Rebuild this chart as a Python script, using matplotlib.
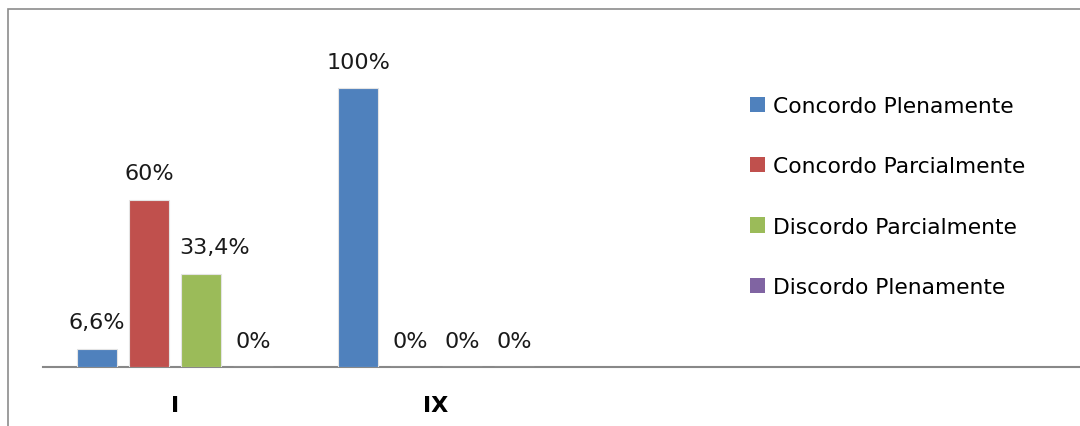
import numpy as np
import matplotlib
matplotlib.use("Agg")
import matplotlib.pyplot as plt
from matplotlib.patches import Patch, Rectangle
from matplotlib import font_manager

# Condensed DejaVu if present, plain DejaVu otherwise
names = {f.name for f in font_manager.fontManager.ttflist}
family = 'DejaVu Sans Condensed' if 'DejaVu Sans Condensed' in names else 'DejaVu Sans'
plt.rcParams['font.family'] = [family, 'DejaVu Sans']

# Survey answers per question (percent)
questions = ['I', 'IX']
series = ['Concordo Plenamente', 'Concordo Parcialmente',
          'Discordo Parcialmente', 'Discordo Plenamente']
concordo_plen = [6.6, 100]
concordo_parc = [60, 0]
discordo_parc = [33.4, 0]
discordo_plen = [0, 0]
values = [concordo_plen, concordo_parc, discordo_parc, discordo_plen]
colors = ['#4F81BD', '#C0504D', '#9BBB59', '#8064A2']

W, H = 1080, 427
fig = plt.figure(figsize=(W / 100, H / 100), dpi=100)

# outer chart frame
fig.patches.append(Rectangle((8 / W, -0.1), 1.2, 1 - 10 / H + 0.1,
                             transform=fig.transFigure, fill=False,
                             edgecolor='#8c8c8c', linewidth=1.2))

ax = fig.add_axes([43 / W, 59 / H, 1 - 43 / W, 338 / H])
ax.set_facecolor('none')

x = np.arange(len(questions))
step = 52 / 261
width = 40 / 261
for i, (name, vals, c) in enumerate(zip(series, values, colors)):
    pos = x + (i - 1.5) * step
    bars = ax.bar(pos, vals, width, color=c, label=name, zorder=3,
                  edgecolor='#e4e4e4', linewidth=0.8)
    for b, v in zip(bars, vals):
        txt = f"{v:g}".replace('.', ',') + '%'
        # nudge the wide decimal label off the neighbouring bar
        dx = 10 if ',' in txt and v > 20 else 0
        ax.annotate(txt, (b.get_x() + b.get_width() / 2, v),
                    xytext=(dx, 19), textcoords='offset points',
                    ha='center', va='center', fontsize=16, color='#1a1a1a')

ax.set_xlim(-0.506, (W - 43) / 261 - 0.506)
ax.set_ylim(0, 338 / 2.79)
ax.set_xticks(x)
ax.set_xticklabels(questions, fontsize=16, fontweight='bold')
ax.tick_params(axis='x', length=0, pad=20)
ax.set_yticks([])
for s in ['top', 'right', 'left']:
    ax.spines[s].set_visible(False)
ax.spines['bottom'].set_color('#888888')
ax.spines['bottom'].set_linewidth(1.5)

handles = [Patch(facecolor=c, edgecolor='none') for c in colors]
fs = 15.7 * 100 / 72
ax.legend(handles, series, loc='upper left',
          bbox_to_anchor=(750 / W, 1 - 97 / H), bbox_transform=fig.transFigure,
          frameon=False, fontsize=15.7, borderpad=0, borderaxespad=0,
          handlelength=15 / fs, handleheight=15 / fs, handletextpad=8 / fs,
          labelspacing=1.85)

fig.savefig('out.png', dpi=100)
